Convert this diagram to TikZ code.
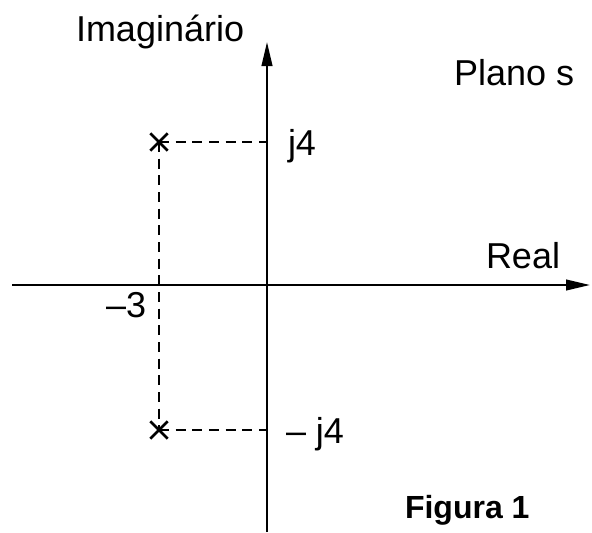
\documentclass[tikz,border=0pt]{standalone}
\usepackage{fontspec}
\setmainfont{Liberation Sans}
\usetikzlibrary{arrows.meta,shapes.misc}

\tikzset{every picture/.style={line width=1.5pt}}

\begin{document}
\begin{tikzpicture}[x=0.75pt,y=0.75pt,yscale=-1,xscale=1,
  eixo/.style={-{Triangle[length=18pt,width=8pt]}},
  tracejado/.style={dash pattern=on 7.5pt off 5pt},
  polo/.style={cross out,draw,minimum size=11pt,inner sep=0pt,line width=2pt},
  rotulo/.style={anchor=base west,inner sep=0pt,font=\fontsize{27}{32}\selectfont}]
\useasboundingbox (0,0) rectangle (592,532);

%Coordinates
\coordinate (origem) at (267,285);
\coordinate (esq) at (12,285);
\coordinate (dir) at (590,285);
\coordinate (baixo) at (267,532);
\coordinate (cima) at (267,42);
\coordinate (pj4) at (267,142);
\coordinate (nj4) at (267,430);

%Poles
\node [polo] (p1) at (159,142) {};
\node [polo] (p2) at (159,430) {};

%Straight Lines
\draw [eixo] (esq) -- (dir);
\draw [eixo] (baixo) -- (cima);

%Dashed Lines
\draw [tracejado] (p1.center) -- (pj4);
\draw [tracejado] (p2.center) -- (nj4);
\draw [tracejado] (p1.center) -- (p2.center);

% Text Node
\node [rotulo] (imag) at (75,41) {Imaginário};
% Text Node
\node [rotulo] (plano) at (453,85) {Plano s};
% Text Node
\node [rotulo] (real) at (485,268) {Real};
% Text Node
\node [rotulo] (jq) at (287,155) {j4};
% Text Node
\node [rotulo] (tres) at (105,317) {–3};
% Text Node
\node [rotulo] (njq) at (285,443) {– j4};
% Text Node
\node [rotulo,font=\fontsize{24}{29}\selectfont\bfseries] (fig) at (404,518) {Figura 1};

\end{tikzpicture}
\end{document}
